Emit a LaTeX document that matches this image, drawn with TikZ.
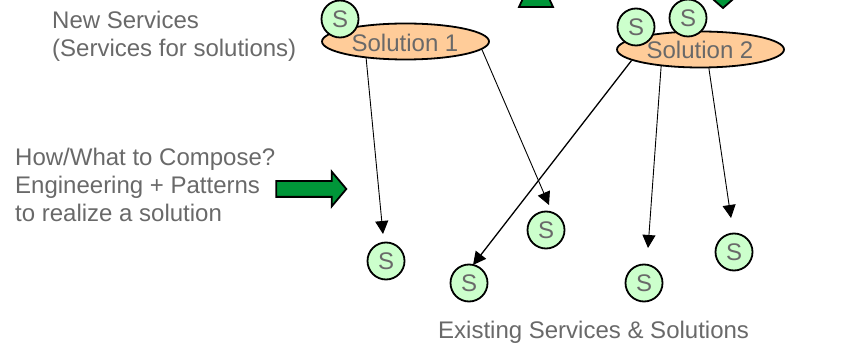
\documentclass[tikz,border=0pt]{standalone}
\usepackage{fontspec}
\setmainfont{Liberation Sans}
\usetikzlibrary{shapes, arrows.meta, positioning}
\definecolor{svcgreen}{RGB}{204, 255, 204}
\definecolor{solorange}{RGB}{255, 204, 153}
\definecolor{arrowgreen}{RGB}{0, 150, 57}
\definecolor{labelgray}{RGB}{105, 105, 105}
\tikzset{
  svc/.style={circle, draw=black, line width=1.8pt, fill=svcgreen, minimum size=37pt, inner sep=0pt, text=labelgray, font=\fontsize{24}{28}\selectfont},
  solution/.style={ellipse, draw=black, line width=1.8pt, fill=solorange, minimum width=167pt, minimum height=36pt, inner sep=0pt, text=labelgray, font=\fontsize{24}{28}\selectfont},
  caption/.style={text=labelgray, align=left, inner sep=0pt, font=\fontsize{24}{28}\selectfont},
  link/.style={draw=black, line width=0.9pt, -{Triangle[length=13pt, width=13pt]}},
  linkthick/.style={link, line width=1.3pt},
  bigarrow/.style={draw=black, line width=1.8pt, fill=arrowgreen, miter limit=10}
}
\begin{document}
\begin{tikzpicture}[x=1pt, y=-1pt]
  \useasboundingbox (0,0) rectangle (866,347);
  \clip (0,0) rectangle (866,347);

  % block arrows
  \draw[bigarrow] (519,7) -- (525,-6) -- (547,-6) -- (553,7) -- cycle;
  \draw[bigarrow] (707,-6) -- (739,-6) -- (723,8) -- cycle;
  \node[single arrow, bigarrow, minimum height=70pt, minimum width=33pt, inner sep=7pt, single arrow head extend=9.5pt, single arrow tip angle=100, single arrow head indent=0pt] (compose) at (308,189) {};

  % solutions
  \node[solution] (solone) at (405.5,41.5) {};
  \node[solution] (soltwo) at (700.5,49.5) {};

  % services on solutions
  \node[svc] (sa) at (340,19) {S};
  \node[svc] (sb) at (636,27) {S};
  \node[svc] (sc) at (688,18) {S};
  \node[text=labelgray, font=\fontsize{24}{28}\selectfont] (soloneText) at (405,43) {Solution 1};
  \node[text=labelgray, font=\fontsize{24}{28}\selectfont] (soltwoText) at (700,50) {Solution 2};

  % existing services
  \node[svc] (sd) at (386,261) {S};
  \node[svc] (se) at (546,230) {S};
  \node[svc] (sf) at (469,283) {S};
  \node[svc] (sg) at (644,283) {S};
  \node[svc] (sh) at (734,252) {S};

  % arrow ends
  \coordinate (endd) at (383,234);
  \coordinate (ende) at (549,205);
  \coordinate (endf) at (473,265);
  \coordinate (endg) at (648,248);
  \coordinate (endh) at (731,218);

  \draw[link] (solone.203) -- (endd);
  \draw[link] (solone.-6) -- (ende);
  \draw[linkthick] (soltwo.189) -- (endf);
  \draw[link] (soltwo.203) -- (endg);
  \draw[link] (soltwo.-66) -- (endh);

  % captions
  \node[caption, anchor=north west] (newsvc) at (52,11) {New Services\\(Services for solutions)};
  \node[caption, anchor=north west] (howto) at (15,148) {How/What to Compose?\\Engineering + Patterns\\to realize a solution};
  \node[caption, anchor=north west] (existing) at (438,321) {Existing Services \& Solutions};
\end{tikzpicture}
\end{document}
